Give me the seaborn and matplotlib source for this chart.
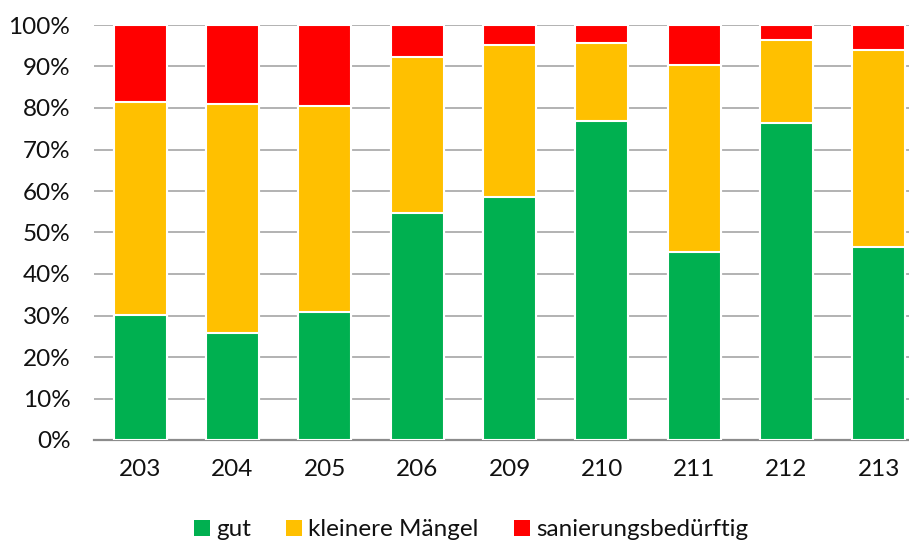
import matplotlib
matplotlib.use("Agg")
import matplotlib.pyplot as plt
from matplotlib.patches import Patch
from matplotlib.ticker import FuncFormatter
import seaborn as sns
import pandas as pd
import numpy as np

# Zustand der Objekte je Bezirk (Anteile in %)
bezirke = ["203", "204", "205", "206", "209", "210", "211", "212", "213"]
gut = [30.1, 25.7, 30.8, 54.8, 58.5, 76.9, 45.2, 76.3, 46.4]
kleinere_maengel = [51.4, 55.3, 49.8, 37.6, 36.7, 18.7, 45.1, 20.2, 47.6]
sanierungsbeduerftig = [18.5, 19.0, 19.4, 7.6, 4.8, 4.4, 9.7, 3.5, 6.0]

labels = ["gut", "kleinere Mängel", "sanierungsbedürftig"]
colors = ["#00B050", "#FFC000", "#FF0000"]

df = pd.DataFrame({
    "Bezirk": bezirke,
    "gut": gut,
    "kleinere Mängel": kleinere_maengel,
    "sanierungsbedürftig": sanierungsbeduerftig,
})
# cumulative heights for stacking
df["c1"] = df["gut"]
df["c2"] = df["c1"] + df["kleinere Mängel"]
df["c3"] = df["c2"] + df["sanierungsbedürftig"]

sns.set_theme(style="white")
plt.rcParams["font.family"] = ["Lato", "DejaVu Sans"]

fig = plt.figure(figsize=(9.09, 5.43), dpi=100)
ax = fig.add_axes([94 / 909, 103 / 543, 831 / 909, 415 / 543])

# draw tallest (cumulative) first so lower segments sit on top
for col, color in zip(["c3", "c2", "c1"], colors[::-1]):
    sns.barplot(data=df, x="Bezirk", y=col, color=color, saturation=1,
                width=0.575, edgecolor="white", linewidth=1.5, ax=ax, zorder=3)

ax.set_xlim(-0.5, len(bezirke) - 0.5)
ax.set_ylim(0, 100)
ax.set_yticks(np.arange(0, 101, 10))
ax.yaxis.set_major_formatter(FuncFormatter(lambda v, _: f"{int(v)}%"))
ax.grid(axis="y", color="#a6a6a6", linewidth=1.2, zorder=0)
ax.set_axisbelow(True)
for side in ["left", "right", "top"]:
    ax.spines[side].set_visible(False)
ax.spines["bottom"].set_color("#8c8c8c")
ax.spines["bottom"].set_linewidth(1.6)
ax.set_xlabel("")
ax.set_ylabel("")
ax.tick_params(axis="both", length=0, labelsize=17.5, colors="#111111")
ax.tick_params(axis="x", pad=14)
ax.tick_params(axis="y", pad=17)

handles = [Patch(facecolor=c, edgecolor="none") for c in colors]
fig.legend(handles, labels, loc="center", bbox_to_anchor=(471 / 909, 1 - 530 / 543),
           ncol=3, frameon=False, fontsize=17.5, handlelength=0.66, handleheight=0.66,
           handletextpad=0.25, columnspacing=1.44, borderaxespad=0, borderpad=0,
           labelcolor="#111111")

fig.savefig("out.png", dpi=100)
